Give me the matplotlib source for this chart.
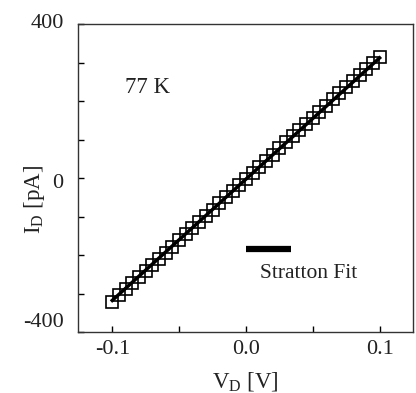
import numpy as np
import matplotlib
matplotlib.use("Agg")
import matplotlib.pyplot as plt
from matplotlib.ticker import MultipleLocator
from matplotlib.transforms import ScaledTranslation

plt.rcParams['font.family'] = ['Liberation Serif', 'DejaVu Serif']
plt.rcParams['mathtext.fontset'] = 'custom'
plt.rcParams['mathtext.rm'] = 'Liberation Serif'

# measured I-V data at 77 K
vd = np.arange(-0.100, 0.1001, 0.005)
id_pa = [-321, -305, -289, -273, -257, -241, -226, -210, -194, -178,
         -162, -146, -130, -114, -98, -82, -66, -50, -34, -18,
         -3, 13, 29, 45, 61, 77, 93, 109, 125, 141,
         157, 172, 188, 204, 220, 236, 252, 268, 284, 299, 315]
# Stratton fit
fit_v = [-0.1, 0.1]
fit_i = [-318, 312]

xticks = [-0.1, 0.0, 0.1]
xticklabels = ['-0.1', '0.0', '0.1']
yticks = [-400, 0, 400]
yticklabels = ['-400', '0', '400']

txt = '#222222'

fig = plt.figure(figsize=(4.16, 3.93), dpi=100)
ax = fig.add_axes([0.1863, 0.1552, 0.8065, 0.7837])

ax.plot(fit_v, fit_i, color='black', lw=2.5, zorder=2)
ax.plot(vd, id_pa, linestyle='none', marker='s', markersize=8.3,
        markerfacecolor='none', markeredgecolor='black', markeredgewidth=1.2, zorder=3)

ax.set_xlim(-0.126, 0.125)
ax.set_ylim(-400, 400)

ax.set_xticks(xticks)
ax.set_xticklabels(xticklabels)
ax.set_yticks(yticks)
ax.set_yticklabels(yticklabels)
ax.xaxis.set_minor_locator(MultipleLocator(0.05))
ax.yaxis.set_minor_locator(MultipleLocator(100))
ax.tick_params(which='both', direction='in', length=4, width=1, top=False, right=False,
               labelsize=16, labelcolor=txt)
ax.tick_params(axis='y', pad=10)
ax.tick_params(axis='x', pad=6)

# the y tick labels sit a little above their ticks in the original
shifts = [12, -3, 3]
for lab, dy in zip(ax.get_yticklabels(), shifts):
    lab.set_transform(lab.get_transform() + ScaledTranslation(0, dy / 100, fig.dpi_scale_trans))

for s in ax.spines.values():
    s.set_linewidth(1.0)
    s.set_color('#333333')

ax.set_xlabel(r'V$_\mathrm{D}$ [V]', fontsize=16.5, color=txt, labelpad=8)
ax.set_ylabel(r'I$_\mathrm{D}$ [pA]', fontsize=16.5, color=txt)
ax.yaxis.set_label_coords(-0.127, 0.43)
ax.yaxis.label.set_va('center')

ax.text(-0.0906, 234, '77 K', fontsize=16.5, color=txt, va='center', ha='left')

# legend drawn by hand
ax.plot([0.0, 0.034], [-184, -184], color='black', lw=4.5, solid_capstyle='butt')
ax.text(0.0105, -249, 'Stratton Fit', fontsize=15.5, color=txt, va='center', ha='left')

fig.savefig('out.png', dpi=100)
